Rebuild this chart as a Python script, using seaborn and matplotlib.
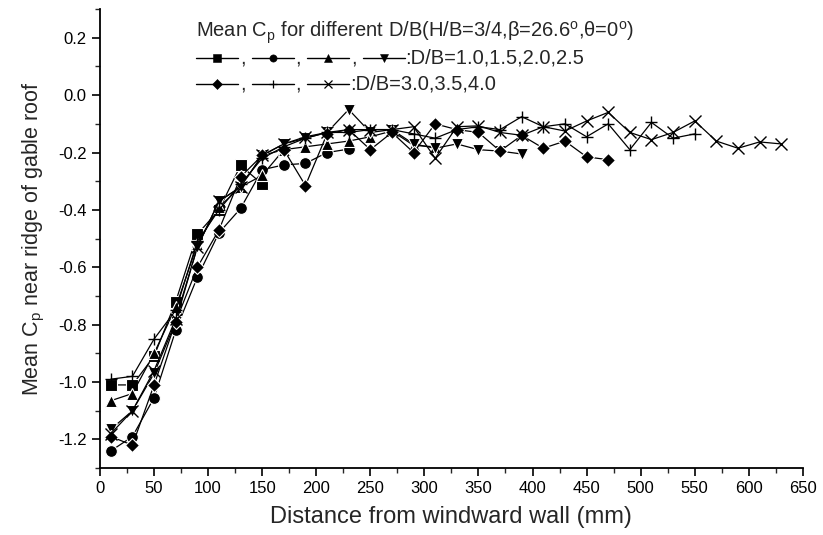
import matplotlib
matplotlib.use('Agg')
import matplotlib.pyplot as plt
import seaborn as sns
import pandas as pd
from matplotlib.lines import Line2D
from matplotlib.ticker import MultipleLocator, FormatStrFormatter

# ---- data ----
dist = [10, 30, 50, 70, 90, 110, 130, 150, 170, 190, 210, 230, 250, 270, 290, 310,
        330, 350, 370, 390, 410, 430, 450, 470, 490, 510, 530, 550, 570, 590, 610, 630]

cp_db10 = [-1.01, -1.01, -0.91, -0.72, -0.485, -0.40, -0.245, -0.31]
cp_db15 = [-1.24, -1.19, -1.055, -0.82, -0.635, -0.48, -0.395, -0.26, -0.243, -0.238,
           -0.20, -0.188]
cp_db20 = [-1.065, -1.04, -0.90, -0.74, -0.52, -0.39, -0.32, -0.28, -0.19, -0.18,
           -0.17, -0.16, -0.145, -0.125, -0.175, -0.18]
cp_db25 = [-1.165, -1.10, -0.97, -0.79, -0.53, -0.37, -0.32, -0.21, -0.17, -0.15,
           -0.13, -0.05, -0.13, -0.12, -0.17, -0.185, -0.17, -0.19, -0.195, -0.205]
cp_db30 = [-1.19, -1.22, -1.01, -0.79, -0.60, -0.47, -0.285, -0.21, -0.19, -0.315,
           -0.135, -0.12, -0.19, -0.13, -0.20, -0.10, -0.12, -0.13, -0.195, -0.14,
           -0.185, -0.16, -0.215, -0.225]
cp_db35 = [-0.99, -0.98, -0.85, -0.75, -0.51, -0.40, -0.31, -0.22, -0.18, -0.15,
           -0.13, -0.13, -0.12, -0.12, -0.135, -0.15, -0.12, -0.11, -0.12, -0.075,
           -0.11, -0.10, -0.145, -0.10, -0.19, -0.095, -0.15, -0.135]
cp_db40 = [-1.18, -1.10, -0.96, -0.78, -0.53, -0.37, -0.32, -0.21, -0.17, -0.145,
           -0.13, -0.12, -0.12, -0.12, -0.11, -0.22, -0.11, -0.107, -0.13, -0.14,
           -0.11, -0.125, -0.09, -0.06, -0.13, -0.155, -0.13, -0.09, -0.16, -0.185,
           -0.163, -0.17]

series = [cp_db10, cp_db15, cp_db20, cp_db25, cp_db30, cp_db35, cp_db40]
markers = ['s', 'o', '^', 'v', 'D', '+', 'x']

sns.set_style('ticks')
plt.rcParams['font.family'] = ['Liberation Sans', 'DejaVu Sans']
plt.rcParams['mathtext.fontset'] = 'custom'
plt.rcParams['mathtext.rm'] = 'Liberation Sans'
plt.rcParams['mathtext.it'] = 'Liberation Sans:italic'
plt.rcParams['axes.unicode_minus'] = False

W, H = 823, 535
fig = plt.figure(figsize=(W / 100, H / 100), dpi=100)
ax = fig.add_axes([0.1215, 0.125, 0.854, 0.858])


def marker_kw(m):
    if m in ('+', 'x'):
        return dict(ms=9, mec='k', mew=1.0)
    if m == 'D':
        return dict(ms=7.5, mec='w', mew=0.8)
    return dict(ms=8.5, mec='w', mew=0.8)


def legend_kw(m):
    if m in ('+', 'x'):
        return dict(ms=6, mec='k', mew=0.9)
    if m == 'D':
        return dict(ms=4.8, mec='k', mew=0.4)
    return dict(ms=5.2, mec='k', mew=0.4)


for vals, m in zip(series, markers):
    n = len(vals)
    df = pd.DataFrame({'x': dist[:n], 'y': vals})
    sns.lineplot(data=df, x='x', y='y', ax=ax, marker=m, color='k', lw=0.9,
                 mfc='k', legend=False, **marker_kw(m))

ax.set_xlim(0, 650)
ax.set_ylim(-1.3, 0.3)
ax.xaxis.set_major_locator(MultipleLocator(50))
ax.xaxis.set_minor_locator(MultipleLocator(25))
ax.yaxis.set_major_locator(MultipleLocator(0.2))
ax.yaxis.set_minor_locator(MultipleLocator(0.1))
ax.yaxis.set_major_formatter(FormatStrFormatter('%.1f'))
ax.tick_params(which='major', direction='out', length=6, width=1.2, labelsize=12, colors='k')
ax.tick_params(which='minor', direction='out', length=3.5, width=1.0)
sns.despine(ax=ax)
for s in ('left', 'bottom'):
    ax.spines[s].set_linewidth(1.3)
    ax.spines[s].set_color('k')

ax.set_xlabel('Distance from windward wall (mm)', fontsize=17, labelpad=7)
ax.set_ylabel(r'Mean C$\mathregular{_p}$ near ridge of gable roof', fontsize=15.5, labelpad=8)


# ---- hand-drawn legend block (figure pixel coordinates) ----
def fx(px):
    return px / W


def fy(py):
    return 1 - py / H


LFS = 14.5
fig.text(fx(196), fy(33),
         r'Mean C$\mathregular{_p}$ for different D/B(H/B=3/4,β=26.6$\mathregular{^o}$,θ=0$\mathregular{^o}$)',
         fontsize=LFS, va='center', ha='left')

rows = [(58, markers[:4], ':D/B=1.0,1.5,2.0,2.5'),
        (84, markers[4:], ':D/B=3.0,3.5,4.0')]
for py, ms_list, label in rows:
    x0 = 196
    for i, m in enumerate(ms_list):
        fig.add_artist(Line2D([fx(x0), fx(x0 + 42)], [fy(py), fy(py)], color='k', lw=1.0))
        fig.add_artist(Line2D([fx(x0 + 21)], [fy(py)], marker=m, color='k', mfc='k',
                              **legend_kw(m)))
        if i < len(ms_list) - 1:
            fig.text(fx(x0 + 44), fy(py), ',', fontsize=LFS, va='center', ha='left')
        x0 += 55.5
    fig.text(fx(x0 - 55.5 + 43), fy(py), label, fontsize=LFS, va='center', ha='left')

fig.savefig('out.png', dpi=100)
